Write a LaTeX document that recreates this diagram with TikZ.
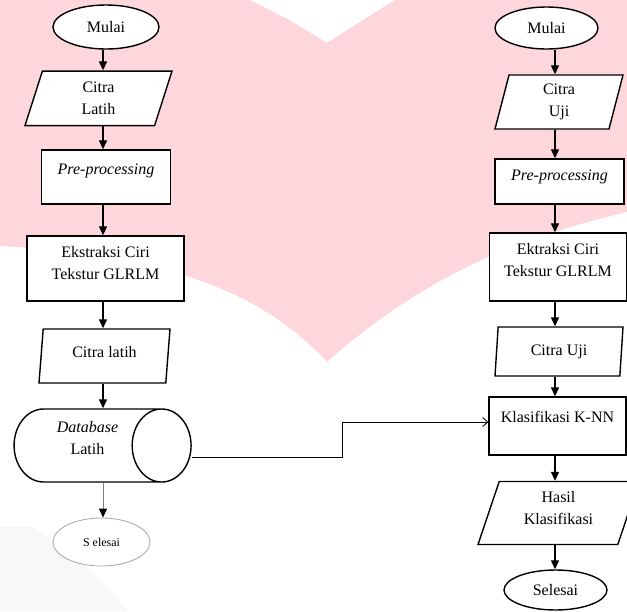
\documentclass[tikz,border=0pt]{standalone}
\usepackage{fontspec}
\setmainfont{Liberation Serif}
\usepackage{tikz}
\usetikzlibrary{shapes.geometric,arrows.meta,positioning}
\definecolor{wmpink}{RGB}{253,215,220}
\definecolor{wmgray}{RGB}{248,248,250}

\begin{document}
\begin{tikzpicture}[
			x=1pt,y=-1pt,
			every node/.style={font=\fontsize{16}{22}\selectfont,align=center,inner sep=0pt,line width=1.4pt},
			terminal/.style={draw,ellipse,fill=white},
			io/.style={draw,trapezium,trapezium stretches body,fill=white},
			proc/.style={draw,rectangle,fill=white},
			store/.style={draw,cylinder,shape aspect=1.2,fill=white},
			arr/.style={line width=1.3pt,-{Triangle[length=9pt,width=8pt]}},
			link/.style={line width=0.8pt,-{Straight Barb[length=5pt,width=9pt]}}
			]

			\path[use as bounding box,clip] (0,0) rectangle (627,611);
			\fill[wmpink] (0,0) -- (250,0) .. controls (290,20) .. (327,43) .. controls (360,22) .. (395,0) -- (627,0) -- (627,212)
				.. controls (530,235) and (430,270) .. (327,362) .. controls (270,300) and (180,255) .. (0,246) -- cycle;
			\fill[wmgray] (0,527) -- (32,527) .. controls (80,560) and (110,585) .. (127,611) -- (0,611) -- cycle;

			\coordinate (axL) at (103,0);
			\coordinate (axR) at (555,0);

			\node[terminal,minimum width=106pt,minimum height=44pt] (mulaiL) at (106,27) {Mulai};
			\node[io,trapezium left angle=62,trapezium right angle=118,minimum width=147pt,minimum height=54.5pt] (citraL) at (98.5,98.3) {Citra\\Latih};
			\node[proc,minimum width=129pt,minimum height=54pt,text height=11pt,text depth=17pt] (preL) at (106,177) {\textit{Pre-processing}};
			\node[proc,minimum width=157pt,minimum height=65pt,text depth=12pt] (ekstL) at (105.5,268.5) {Ekstraksi Ciri\\Tekstur GLRLM};
			\node[io,trapezium left angle=77.5,trapezium right angle=102.5,minimum width=131pt,minimum height=54pt,text height=11pt,text depth=8pt] (latihL) at (104.5,356) {Citra latih};
			\node[store,minimum height=177pt,minimum width=73pt,text depth=16pt] (dbL) at (87.5,445.5) {\textit{Database}\\Latih};
			\node[terminal,draw=gray!70,line width=0.8pt,minimum width=97pt,minimum height=48pt,font=\fontsize{12}{14}\selectfont] (selL) at (101.5,542) {S elesai};

			\node[terminal,minimum width=103pt,minimum height=42pt] (mulaiR) at (546.5,28) {Mulai};
			\node[io,trapezium left angle=68.7,trapezium right angle=111.3,minimum width=128pt,minimum height=54pt] (citraR) at (559,102) {Citra\\Uji};
			\node[proc,minimum width=129pt,minimum height=45pt,text height=11pt,text depth=14pt] (preR) at (559.5,181.5) {\textit{Pre-processing}};
			\node[proc,minimum width=137pt,minimum height=68pt,text depth=15pt] (ekstR) at (558,267) {Ektraksi Ciri\\Tekstur GLRLM};
			\node[io,trapezium left angle=77.3,trapezium right angle=102.7,minimum width=128pt,minimum height=49pt] (ujiR) at (559,351.5) {Citra Uji};
			\node[proc,minimum width=137pt,minimum height=58pt,text height=11pt,text depth=19pt] (knn) at (557.5,426) {Klasifikasi K-NN};
			\node[io,trapezium left angle=63.8,trapezium right angle=116.2,minimum width=161pt,minimum height=63pt,text depth=10pt] (hasil) at (558.5,513) {Hasil\\Klasifikasi};
			\node[terminal,minimum width=103pt,minimum height=40pt] (selR) at (555.5,590) {Selesai};

			\draw[arr] (mulaiL.south -| axL) -- (citraL.north -| axL);
			\draw[arr] (citraL.south -| axL) -- (preL.north -| axL);
			\draw[arr] (preL.south -| axL) -- (ekstL.north -| axL);
			\draw[arr] (ekstL.south -| axL) -- (latihL.north -| axL);
			\draw[arr] (latihL.south -| axL) -- (dbL.north -| axL);
			\draw[arr,draw=gray,line width=0.9pt,-{Triangle[length=9pt,width=8pt,color=black]}] (dbL.south -| axL) -- (selL.north -| axL);

			\draw[arr] (mulaiR.south -| axR) -- (citraR.north -| axR);
			\draw[arr] (citraR.south -| axR) -- (preR.north -| axR);
			\draw[arr] (preR.south -| axR) -- (ekstR.north -| axR);
			\draw[arr] (ekstR.south -| axR) -- (ujiR.north -| axR);
			\draw[arr] (ujiR.south -| axR) -- (knn.north -| axR);
			\draw[arr] (knn.south -| axR) -- (hasil.north -| axR);
			\draw[arr] (hasil.south -| axR) -- (selR.north -| axR);

			\draw[link] ([yshift=-11.5pt]dbL.east) -- ++(151,0) |- ([yshift=4pt]knn.west);

			\end{tikzpicture}
\end{document}
